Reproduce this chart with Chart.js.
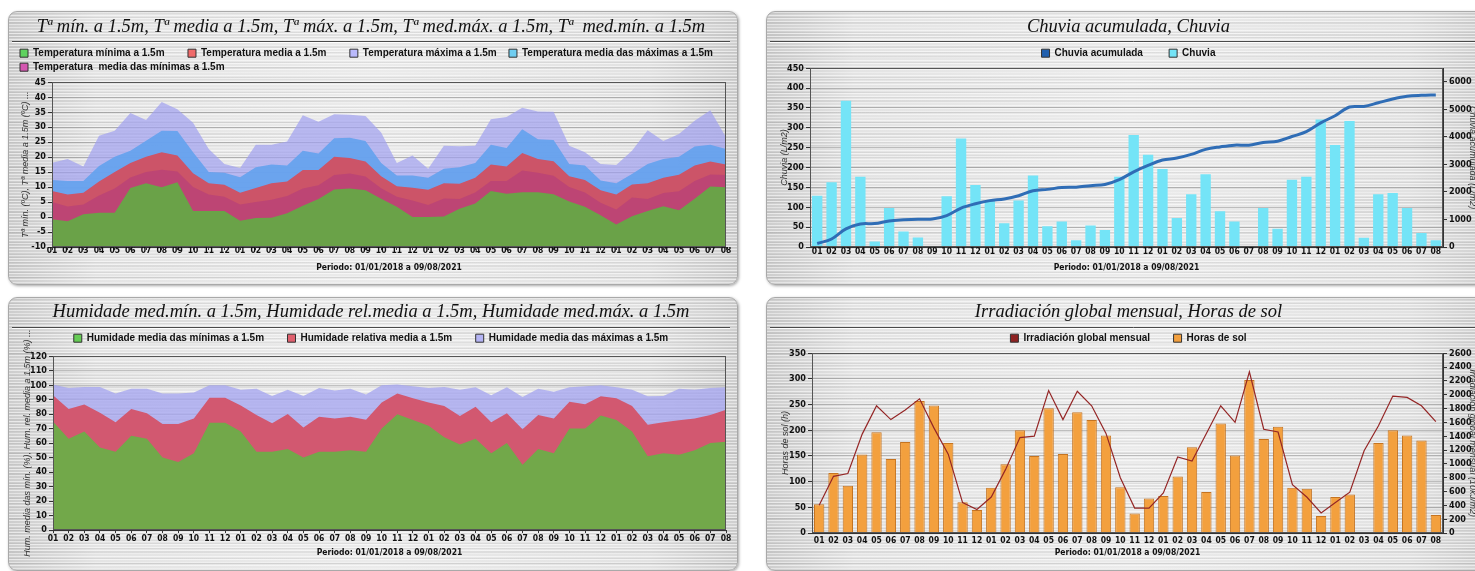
<!DOCTYPE html>
<html>
<head>
<meta charset="utf-8">
<script src="https://cdn.jsdelivr.net/npm/chart.js@4.4.1/dist/chart.umd.min.js"></script>
<style>
  body { margin: 0; background: #fff; width: 1475px; height: 571px; overflow: hidden; position: relative; }
  .panel {
    position: absolute; border: 1px solid #a9a9a9; border-radius: 9px; overflow: hidden;
    box-shadow: 1px 1px 3px rgba(0,0,0,0.35);
    background:
      repeating-linear-gradient(180deg, rgba(255,255,255,0.55) 0 1px, transparent 1px 3px),
      repeating-linear-gradient(180deg, rgba(0,0,0,0.06) 0 1px, transparent 1px 5px),
      repeating-linear-gradient(180deg, rgba(0,0,0,0.045) 0 2px, transparent 2px 11px),
      linear-gradient(90deg, #cdcdcd 0%, #e4e4e4 12%, #ebebeb 50%, #e2e2e2 88%, #cfcfcf 100%);
  }
  canvas { position: absolute; left: 0; top: 0; }
</style>
</head>
<body>
<div class="panel" style="left:8px; top:11px; width:728px; height:272px"><canvas id="temp" width="728" height="272"></canvas></div>
<div class="panel" style="left:766px; top:11px; width:730px; height:272px"><canvas id="chuvia" width="730" height="272"></canvas></div>
<div class="panel" style="left:8px; top:297px; width:728px; height:272px"><canvas id="hum" width="728" height="272"></canvas></div>
<div class="panel" style="left:766px; top:297px; width:730px; height:272px"><canvas id="sol" width="730" height="272"></canvas></div>
<script>
// meses 01/2018 .. 08/2021
const meses = ['01','02','03','04','05','06','07','08','09','10','11','12',
  '01','02','03','04','05','06','07','08','09','10','11','12',
  '01','02','03','04','05','06','07','08','09','10','11','12',
  '01','02','03','04','05','06','07','08'];

// Temperaturas (ºC)
const tempMin = [-0.7, -1.4, 0.9, 1.4, 1.4, 9.7, 11.3, 9.9, 11.6, 2.0, 2.0, 2.0,
  -1.2, -0.3, -0.2, 1.3, 3.8, 6.0, 9.2, 9.5, 8.9, 6.1, 3.4, 0.0,
  0.0, 0.2, 2.8, 4.5, 8.7, 7.8, 8.3, 8.3, 7.6, 5.2, 3.4, 0.6,
  -2.5, 0.3, 2.0, 3.6, 2.3, 6.1, 10.2, 9.9];
const tempMedia = [8.7, 7.5, 8.1, 11.9, 15.0, 18.0, 20.1, 21.6, 20.5, 14.6, 11.3, 10.8,
  8.1, 9.7, 11.3, 11.9, 15.7, 15.7, 20.1, 19.7, 18.5, 13.6, 10.3, 9.8,
  9.1, 11.3, 11.1, 13.1, 17.5, 16.9, 21.4, 19.4, 18.6, 13.6, 12.4, 8.9,
  7.5, 10.9, 11.3, 13.1, 14.1, 17.2, 18.5, 17.5];
const tempMax = [18.1, 19.4, 16.9, 27.1, 28.8, 34.7, 32.4, 38.4, 36.0, 31.5, 22.7, 17.7,
  16.4, 24.1, 24.1, 25.2, 34.0, 31.8, 34.3, 34.1, 33.7, 28.2, 18.0, 20.5,
  16.1, 23.8, 23.6, 23.8, 32.6, 33.4, 36.5, 35.2, 35.1, 23.8, 21.6, 17.7,
  17.4, 22.1, 29.0, 25.4, 27.7, 32.1, 35.6, 26.6];
const tempMediaMax = [12.4, 12.0, 12.0, 17.0, 20.1, 22.1, 25.5, 28.8, 28.7, 21.6, 15.0, 14.8,
  13.3, 16.6, 17.5, 17.2, 22.1, 21.2, 26.3, 26.5, 25.4, 18.0, 13.9, 13.9,
  13.1, 16.1, 16.6, 18.0, 24.1, 23.0, 29.3, 26.0, 25.7, 17.7, 17.2, 12.2,
  11.3, 14.4, 17.7, 19.4, 20.1, 23.5, 24.1, 22.7];
const tempMediaMin = [5.0, 3.5, 4.2, 7.2, 9.5, 13.2, 15.0, 15.8, 15.2, 10.0, 7.5, 6.8,
  4.2, 5.0, 5.8, 7.0, 9.5, 10.6, 14.0, 14.5, 13.5, 9.6, 6.8, 5.5,
  4.0, 6.2, 6.0, 8.2, 12.0, 12.0, 15.5, 14.8, 13.8, 10.0, 8.2, 4.8,
  2.5, 6.5, 6.0, 8.0, 8.6, 12.0, 14.2, 14.0];

// Chuvia (L/m2)
const chuvia = [129, 163, 368, 177, 14, 98, 39, 24, 2, 128, 273, 156,
  115, 60, 117, 180, 52, 64, 17, 54, 43, 177, 282, 232,
  196, 73, 133, 183, 90, 64, 0, 98, 46, 169, 177, 321,
  257, 317, 23, 133, 136, 98, 35, 17];
const chuviaAcumulada = [129, 292, 660, 837, 851, 949, 988, 1012, 1014, 1142, 1415, 1571,
  1686, 1746, 1863, 2043, 2095, 2159, 2176, 2230, 2273, 2450, 2732, 2964,
  3160, 3233, 3366, 3549, 3639, 3703, 3703, 3801, 3847, 4016, 4193, 4514,
  4771, 5088, 5111, 5244, 5380, 5478, 5513, 5530];

// Humidade (%)
const humMin = [75, 63, 68, 57, 54, 65, 63, 50, 47, 53, 74, 74,
  68, 54, 54, 56, 50, 54, 54, 55, 54, 70, 80, 76,
  72, 64, 59, 63, 53, 60, 45, 56, 53, 70, 70, 79,
  76, 68, 51, 53, 52, 55, 60, 61];
const humMedia = [93, 83.6, 86.6, 81, 74.4, 83.6, 80.6, 73.2, 73.2, 77, 91.3, 91.3,
  86, 79.4, 73.7, 80.1, 70.7, 78.2, 77, 78.2, 76.2, 88, 94.3, 91,
  88, 85.6, 78.7, 85.1, 74.4, 80.6, 69.5, 79.4, 77, 88.6, 86.8, 92.3,
  91, 85.6, 72.7, 74.4, 75.7, 76.9, 79.4, 83.1];
const humMax = [100.5, 98, 98.8, 98.8, 94.3, 97.5, 97.5, 94.3, 94.3, 95, 100, 100,
  96.8, 97.5, 92.6, 96.8, 92.6, 98, 96.3, 97.5, 93.5, 100, 100.5, 99.3,
  98, 98.8, 96.8, 98.5, 93, 98.5, 91.8, 97.5, 95.5, 98.5, 99.3, 100,
  98.5, 96.8, 92.3, 92.6, 97.5, 96.8, 98, 98.5];

// Horas de sol (h) e irradiacion global mensual
const horasSol = [56, 117, 92, 153, 196, 144, 177, 257, 248, 175, 60, 45,
  88, 134, 200, 150, 243, 154, 235, 220, 190, 89, 38, 67,
  72, 110, 167, 80, 213, 151, 298, 183, 207, 88, 86, 33,
  70, 75, null, 175, 200, 190, 180, 35];
const irradiacion = [400, 820, 860, 1430, 1840, 1640, 1780, 1940, 1520, 1140, 440, 340,
  520, 920, 1380, 1400, 2060, 1640, 2050, 1840, 1440, 800, 360, 360,
  580, 1100, 1040, 1440, 1840, 1600, 2330, 1500, 1460, 700, 520, 290,
  440, 590, 1190, 1550, 1980, 1960, 1840, 1610];

const NARROW = '"Liberation Sans Narrow","DejaVu Sans Condensed","Liberation Sans",sans-serif';
const SANS = '"Liberation Sans",Arial,sans-serif';
const TICK = {family: NARROW, size: 9, weight: 'bold'};
const TICK_X = {family: NARROW, size: 8.5, weight: 'bold'};
const PERIODO = 'Periodo: 01/01/2018 a 09/08/2021';

// liña baixo o titulo e marco da area do grafico
const marco = {
  id: 'marco',
  beforeDraw(chart, args, o) {
    const c = chart.ctx;
    c.save();
    c.lineWidth = 1;
    c.strokeStyle = '#4a4a4a';
    c.beginPath(); c.moveTo(3, o.y + 0.5); c.lineTo(chart.width - o.der, o.y + 0.5); c.stroke();
    c.strokeStyle = 'rgba(255,255,255,0.9)';
    c.beginPath(); c.moveTo(3, o.y + 1.5); c.lineTo(chart.width - o.der, o.y + 1.5); c.stroke();
    c.restore();
  },
  afterDatasetsDraw(chart) {
    const a = chart.chartArea, c = chart.ctx;
    c.save();
    c.strokeStyle = '#555'; c.lineWidth = 1;
    c.strokeRect(Math.round(a.left) + 0.5, Math.round(a.top) + 0.5, Math.round(a.width) - 1, Math.round(a.height) - 1);
    c.restore();
  }
};

// caixa baleira entre a lenda e o grafico
function espazo(h) {
  return {
    id: 'espazo',
    beforeInit(chart) {
      Chart.layouts.addBox(chart, {
        position: 'top', weight: 500, fullSize: true, options: {},
        isHorizontal() { return true; },
        update(maxWidth) { this.width = maxWidth; this.height = h; },
        draw() {}
      });
    }
  };
}

function titulo(texto, padTop) {
  return {display: true, text: texto, color: '#111',
    font: {family: '"Liberation Serif","Times New Roman",serif', size: 18.5, style: 'italic', weight: 'normal'},
    padding: {top: padTop, bottom: 6}};
}

// espazos: ocos despois de cada elemento da lenda
function lenda(cores, espazos, aliñ) {
  return {
    align: aliñ,
    labels: {
      boxWidth: 8, boxHeight: 8, padding: 4, color: '#111',
      font: {family: SANS, size: 10, weight: 'bold'},
      sort: (a, b) => a.datasetIndex - b.datasetIndex,
      generateLabels: chart => Chart.defaults.plugins.legend.labels.generateLabels(chart).map(it => Object.assign(it, {
        text: it.text + ' '.repeat(espazos[it.datasetIndex]), fillStyle: cores[it.datasetIndex], strokeStyle: '#333', lineWidth: 1
      }))
    }
  };
}

function ejeX(alto, marca, tickPad, tituloPad) {
  return {
    ticks: {font: TICK_X, color: '#111', autoSkip: false, maxRotation: 0, minRotation: 0, padding: tickPad},
    grid: {drawOnChartArea: false, drawTicks: marca > 0, tickLength: marca, tickColor: '#333'},
    border: {color: '#333'},
    title: {display: true, text: PERIODO, color: '#111', font: {family: NARROW, size: 8.5, weight: 'bold'},
      padding: {top: 0, bottom: tituloPad}},
    afterFit: s => { s.height = alto; }
  };
}

function ejeY(min, max, paso, ancho, texto, tituloPad, extra) {
  return Object.assign({
    min: min, max: max,
    ticks: {stepSize: paso, font: TICK, color: '#111', padding: 2, callback: v => String(v)},
    grid: {color: 'rgba(95,95,95,0.35)', tickLength: 4, tickColor: '#333'},
    border: {color: '#333'},
    title: {display: true, text: texto, color: '#333', font: {family: SANS, size: 9, style: 'italic'},
      padding: {top: tituloPad}},
    afterFit: s => { s.width = ancho; }
  }, extra || {});
}

Chart.defaults.animation = false;
Chart.defaults.responsive = false;
Chart.defaults.devicePixelRatio = 1;
Chart.defaults.plugins.tooltip.enabled = false;

function area(label, data, color, orden) {
  return {label: label, data: data, backgroundColor: color, borderColor: color, borderWidth: 0,
    fill: 'start', pointRadius: 0, tension: 0, order: orden};
}

// Temperaturas
new Chart(document.getElementById('temp'), {
  type: 'line',
  data: {
    labels: meses,
    datasets: [
      area('Temperatura mínima a 1.5m', tempMin, 'rgb(106,162,72)', 0),
      area('Temperatura media a 1.5m', tempMedia, 'rgb(204,84,104)', 2),
      area('Temperatura máxima a 1.5m', tempMax, 'rgba(160,160,240,0.7)', 4),
      area('Temperatura media das máximas a 1.5m', tempMediaMax, 'rgba(100,162,238,0.92)', 3),
      area('Temperatura  media das mínimas a 1.5m', tempMediaMin, 'rgba(170,50,130,0.45)', 1)
    ]
  },
  options: {
    layout: {padding: {left: 7, right: 11, top: 0, bottom: 0}},
    plugins: {
      title: titulo('Tª mín. a 1.5m, Tª media a 1.5m, Tª máx. a 1.5m, Tª med.máx. a 1.5m, Tª  med.mín. a 1.5m', 4),
      legend: lenda(['#5fd35f', '#ef6a6a', '#b9b9fb', '#6fcdf0', '#d457b0'], [7, 7, 3, 0, 0], 'start'),
      marco: {y: 29, der: 7}
    },
    scales: {
      x: ejeX(37, 3, -4, 11),
      y: ejeY(-10, 45, 5, 36, 'Tª mín. (ºC), Tª media a 1.5m (ºC) ...', 3.6)
    }
  },
  plugins: [marco]
});

// Chuvia
new Chart(document.getElementById('chuvia'), {
  type: 'bar',
  data: {
    labels: meses,
    datasets: [
      {type: 'line', label: 'Chuvia acumulada', data: chuviaAcumulada, yAxisID: 'y1', borderColor: '#2f6db6',
        backgroundColor: '#2f6db6', borderWidth: 3, pointRadius: 0, tension: 0.35, fill: false},
      {label: 'Chuvia', data: chuvia, yAxisID: 'y', backgroundColor: '#74e4f7', barPercentage: 0.72, categoryPercentage: 1}
    ]
  },
  options: {
    layout: {padding: {left: 7, right: 14, top: 0, bottom: 0}},
    plugins: {
      title: titulo('Chuvia acumulada, Chuvia', 4),
      legend: lenda(['#1f5fae', '#74e4f7'], [8, 0], 'center'),
      marco: {y: 29, der: 0}
    },
    scales: {
      x: ejeX(37, 0, 0, 11),
      y: ejeY(0, 450, 50, 36, 'Chuvia (L/m2)', 4.6),
      y1: ejeY(0, 6500, 500, 40, 'Chuvia acumulada (L/m2)', 5.6, {position: 'right', grid: {drawOnChartArea: false, tickLength: 4, tickColor: '#333'}})
    }
  },
  plugins: [marco]
});

// Humidade
new Chart(document.getElementById('hum'), {
  type: 'line',
  data: {
    labels: meses,
    datasets: [
      area('Humidade media das mínimas a 1.5m', humMin, 'rgb(114,168,74)', 0),
      area('Humidade relativa media a 1.5m', humMedia, 'rgb(210,88,112)', 1),
      area('Humidade media das máximas a 1.5m', humMax, 'rgba(165,165,240,0.78)', 2)
    ]
  },
  options: {
    layout: {padding: {left: 7, right: 11, top: 0, bottom: 0}},
    plugins: {
      title: titulo('Humidade med.mín. a 1.5m, Humidade rel.media a 1.5m, Humidade med.máx. a 1.5m', 3),
      legend: lenda(['#66cc55', '#e0606e', '#b4b4f4'], [7, 7, 0], 'center'),
      marco: {y: 29, der: 7}
    },
    scales: {
      x: ejeX(40, 3, 1, 12),
      y: ejeY(0, 120, 10, 37, 'Hum. media das mín. (%), Hum. rel. media a 1.5m (%) ...', 5.6)
    }
  },
  plugins: [marco, espazo(3)]
});

// Horas de sol
new Chart(document.getElementById('sol'), {
  type: 'bar',
  data: {
    labels: meses,
    datasets: [
      {type: 'line', label: 'Irradiación global mensual', data: irradiacion, yAxisID: 'y1', borderColor: '#942626',
        backgroundColor: '#8e2222', borderWidth: 1.2, pointRadius: 0, tension: 0, fill: false},
      {label: 'Horas de sol', data: horasSol, yAxisID: 'y', backgroundColor: '#f3a03e', borderColor: '#c57421',
        borderWidth: 1, barPercentage: 0.72, categoryPercentage: 1}
    ]
  },
  options: {
    layout: {padding: {left: 7, right: 14, top: 0, bottom: 0}},
    plugins: {
      title: titulo('Irradiación global mensual, Horas de sol', 3),
      legend: lenda(['#8e2222', '#f3a03e'], [7, 0], 'center'),
      marco: {y: 29, der: 0}
    },
    scales: {
      x: ejeX(37, 0, 3, 12),
      y: ejeY(0, 350, 50, 38, 'Horas de sol (h)', 5.6),
      y1: ejeY(0, 2600, 200, 40, 'Irradiación global mensual (10kJ/m2)', 5.6, {position: 'right', grid: {drawOnChartArea: false, tickLength: 4, tickColor: '#333'}})
    }
  },
  plugins: [marco]
});
</script>
</body>
</html>
